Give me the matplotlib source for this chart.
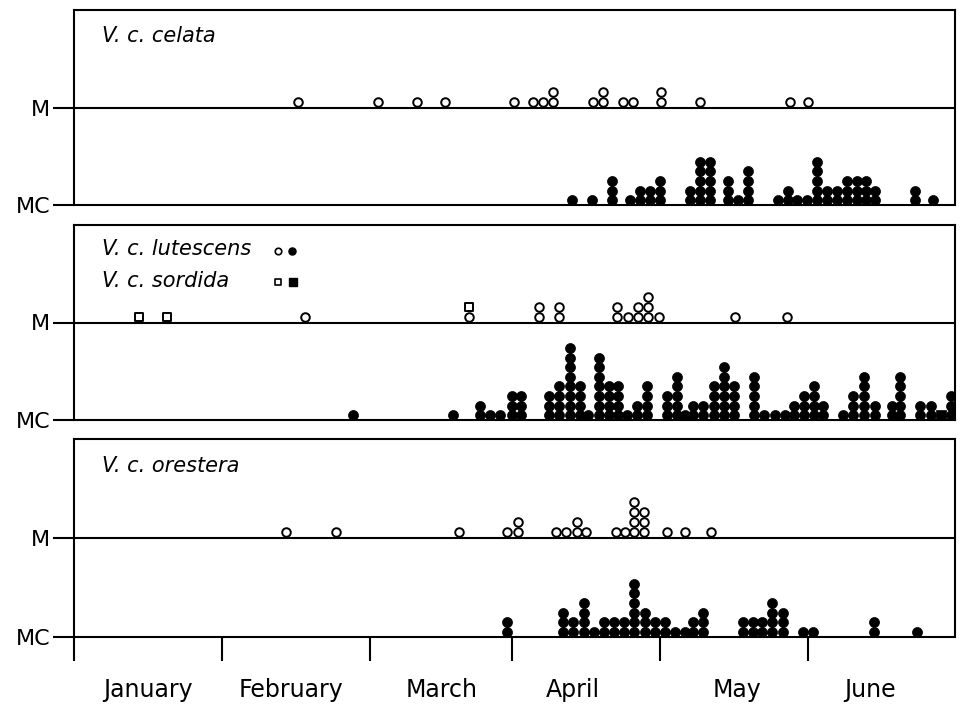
import numpy as np
import matplotlib.pyplot as plt

# posiciones a lo largo del eje de fechas
month_edges = [74, 222, 370, 512, 660, 808]
month_names = ['January', 'February', 'March', 'April', 'May', 'June']
month_label_x = [148, 291, 442, 573, 737, 870]
x_end = 955

# V. c. celata
celata_m_x = [298, 378, 417, 445, 514, 533, 543, 553, 593, 603, 623, 633, 661, 700, 790, 808]
celata_m_n = [1, 1, 1, 1, 1, 1, 1, 2, 1, 2, 1, 1, 2, 1, 1, 1]
celata_mc_x = [572, 592, 612, 630, 640, 650, 660, 690, 700, 710, 728, 738, 748,
               778, 788, 797, 807, 817, 827, 837, 847, 857, 866, 875, 915, 933]
celata_mc_n = [1, 1, 3, 1, 2, 2, 3, 2, 5, 5, 3, 1, 4,
               1, 2, 1, 1, 5, 2, 2, 3, 3, 3, 2, 2, 1]

# V. c. lutescens / V. c. sordida
lutescens_m_x = [305, 469, 539, 559, 617, 628, 638, 648, 659, 735, 787]
lutescens_m_n = [1, 1, 2, 2, 2, 1, 2, 3, 1, 1, 1]
lutescens_mc_x = [353, 453, 480, 490, 500, 512, 521, 549, 559, 570, 580, 588, 599, 609,
                  618, 627, 637, 647, 667, 677, 685, 693, 703, 714, 724, 734, 754, 764,
                  775, 785, 794, 804, 814, 823, 843, 853, 864, 875, 892, 900, 920, 931, 951]
lutescens_mc_n = [1, 1, 2, 1, 1, 3, 3, 3, 4, 8, 4, 1, 7, 4,
                  4, 1, 2, 4, 3, 5, 1, 2, 2, 4, 6, 4, 5, 1,
                  1, 1, 2, 3, 4, 2, 1, 3, 5, 2, 2, 5, 2, 2, 3]
sordida_m_x = [139, 167, 469]
sordida_mc_x = [941]

# V. c. orestera
orestera_m_x = [286, 336, 459, 507, 518, 556, 566, 577, 586, 616, 625, 634, 644, 667, 685, 711]
orestera_m_n = [1, 1, 1, 1, 2, 1, 1, 2, 1, 1, 1, 4, 3, 1, 1, 1]
orestera_mc_x = [507, 563, 573, 584, 594, 604, 614, 624, 634, 645, 655, 665, 675,
                 685, 693, 703, 743, 753, 762, 772, 783, 803, 813, 874, 917]
orestera_mc_n = [2, 3, 2, 4, 1, 2, 2, 2, 6, 3, 2, 2, 1,
                 1, 2, 3, 2, 2, 2, 4, 3, 1, 1, 2, 1]

M_LEVEL = 10
MC_BASE, MC_STEP = 0.5, 0.98
M_BASE, M_STEP = 0.6, 1.0
LW = 1.5


def stack(xs, ns, start=None):
    px, lv = [], []
    for i, (x, n) in enumerate(zip(xs, ns)):
        s = 0 if start is None else start[i]
        for k in range(n):
            px.append(x)
            lv.append(s + k)
    return np.array(px), np.array(lv)


def draw_m(ax, xs, ns, marker='o', start=None):
    px, lv = stack(xs, ns, start)
    ax.scatter(px, M_LEVEL + M_BASE + lv * M_STEP, s=38, marker=marker,
               facecolor='white', edgecolor='black', linewidth=1.4, zorder=3)


def draw_mc(ax, xs, ns, marker='o'):
    px, lv = stack(xs, ns)
    ax.scatter(px, MC_BASE + lv * MC_STEP, s=52, marker=marker,
               facecolor='black', edgecolor='black', linewidth=0.5, zorder=3)


fig = plt.figure(figsize=(9.63, 7.08), dpi=100)
W, H = 963, 708
panels_px = [(10, 205), (225, 420), (439, 637)]
axes = []
for top, bot in panels_px:
    ax = fig.add_axes([74 / W, (H - bot) / H, (x_end - 74) / W, (bot - top) / H])
    ax.set_xlim(74, x_end)
    ax.set_ylim(0, 20)
    ax.axhline(M_LEVEL, color='black', lw=LW, zorder=2)
    for sp in ax.spines.values():
        sp.set_linewidth(LW)
    ax.set_yticks([0, M_LEVEL])
    ax.set_yticklabels(['MC', 'M'], fontsize=16)
    ax.tick_params(axis='y', direction='out', length=15, width=LW, pad=2)
    ax.set_xticks([])
    axes.append(ax)

ax1, ax2, ax3 = axes

# panel 1
ax1.text(102, 17.3, 'V. c. celata', fontsize=15, style='italic', va='center')
draw_m(ax1, celata_m_x, celata_m_n)
draw_mc(ax1, celata_mc_x, celata_mc_n)

# panel 2
ax2.text(102, 17.5, 'V. c. lutescens', fontsize=15, style='italic', va='center')
ax2.text(102, 14.3, 'V. c. sordida', fontsize=15, style='italic', va='center')
ax2.scatter([278], [17.3], s=22, marker='o', facecolor='white', edgecolor='black', linewidth=1.2)
ax2.scatter([292], [17.3], s=26, marker='o', facecolor='black', edgecolor='black')
ax2.scatter([278], [14.2], s=22, marker='s', facecolor='white', edgecolor='black', linewidth=1.2)
ax2.scatter([293], [14.2], s=26, marker='s', facecolor='black', edgecolor='black')
draw_m(ax2, lutescens_m_x, lutescens_m_n)
lut_count = dict(zip(lutescens_m_x, lutescens_m_n))
draw_m(ax2, sordida_m_x, [1] * len(sordida_m_x), marker='s',
       start=[lut_count.get(x, 0) for x in sordida_m_x])
draw_mc(ax2, lutescens_mc_x, lutescens_mc_n)
draw_mc(ax2, sordida_mc_x, [1] * len(sordida_mc_x), marker='s')

# panel 3
ax3.text(102, 17.3, 'V. c. orestera', fontsize=15, style='italic', va='center')
draw_m(ax3, orestera_m_x, orestera_m_n)
draw_mc(ax3, orestera_mc_x, orestera_mc_n)
ax3.set_xticks(month_edges)
ax3.set_xticklabels([])
ax3.tick_params(axis='x', direction='out', length=17, width=LW)
for x, name in zip(month_label_x, month_names):
    ax3.text(x, -0.27, name, transform=ax3.get_xaxis_transform(),
             ha='center', va='center', fontsize=17)

fig.savefig('out.png', dpi=100)
